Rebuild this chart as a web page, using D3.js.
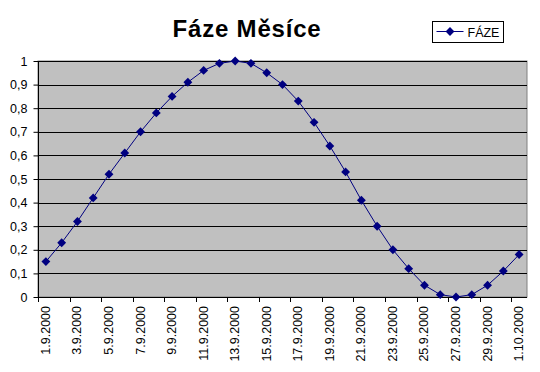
<!DOCTYPE html>
<html lang="cs">
<head>
    <meta charset="UTF-8">
    <script src="https://d3js.org/d3.v7.min.js"></script>
    <style>
        body { margin: 0; background: #fff; }
        text { font-family: "Liberation Sans", Arial, sans-serif; }
    </style>
</head>
<body>
    <svg id="chart" width="540" height="372"></svg>

    <script>
        // data
        const dates = ["1.9.2000", "2.9.2000", "3.9.2000", "4.9.2000", "5.9.2000", "6.9.2000",
            "7.9.2000", "8.9.2000", "9.9.2000", "10.9.2000", "11.9.2000", "12.9.2000",
            "13.9.2000", "14.9.2000", "15.9.2000", "16.9.2000", "17.9.2000", "18.9.2000",
            "19.9.2000", "20.9.2000", "21.9.2000", "22.9.2000", "23.9.2000", "24.9.2000",
            "25.9.2000", "26.9.2000", "27.9.2000", "28.9.2000", "29.9.2000", "30.9.2000",
            "1.10.2000"];
        const faze = [0.15, 0.23, 0.32, 0.42, 0.52, 0.61, 0.70, 0.78, 0.85, 0.91, 0.96, 0.99,
            1.00, 0.99, 0.95, 0.90, 0.83, 0.74, 0.64, 0.53, 0.41, 0.30, 0.20, 0.12,
            0.05, 0.01, 0.00, 0.01, 0.05, 0.11, 0.18];
        const yTicks = [0, 0.1, 0.2, 0.3, 0.4, 0.5, 0.6, 0.7, 0.8, 0.9, 1];

        const width = 540, height = 372;
        const margin = { top: 61, right: 13, bottom: 75, left: 38 };
        const svg = d3.select("#chart");

        const x = d3.scaleBand()
            .domain(dates)
            .range([margin.left, width - margin.right]);

        const y = d3.scaleLinear()
            .domain([0, 1])
            .range([height - margin.bottom, margin.top]);

        const fmt = d => String(d3.format(".1~f")(d)).replace(".", ",");

        // plot area
        svg.append("rect")
            .attr("x", margin.left)
            .attr("y", margin.top)
            .attr("width", width - margin.left - margin.right)
            .attr("height", height - margin.top - margin.bottom)
            .attr("fill", "#c0c0c0")
            .attr("stroke", "#808080");

        // gridlines
        svg.append("g")
            .selectAll("line")
            .data(yTicks.filter(d => d > 0))
            .enter().append("line")
            .attr("x1", margin.left)
            .attr("x2", width - margin.right)
            .attr("y1", d => Math.round(y(d)) + 0.5)
            .attr("y2", d => Math.round(y(d)) + 0.5)
            .attr("stroke", "#000");

        // y axis
        const yAxis = svg.append("g")
            .attr("transform", `translate(${margin.left + 0.5},0)`)
            .call(d3.axisLeft(y).tickValues(yTicks).tickSize(5).tickPadding(6).tickFormat(fmt));
        yAxis.select(".domain").attr("stroke", "#000").attr("d", `M0,${margin.top}V${height - margin.bottom}`);
        yAxis.selectAll(".tick line").attr("stroke", "#000");
        yAxis.selectAll("text").style("font-size", "12.5px").attr("fill", "#000");

        // x axis - ticks every 2 categories at boundaries
        const xAxisY = height - margin.bottom;
        const gx = svg.append("g");
        gx.append("line")
            .attr("x1", margin.left)
            .attr("x2", width - margin.right)
            .attr("y1", xAxisY + 0.5)
            .attr("y2", xAxisY + 0.5)
            .attr("stroke", "#000");
        gx.selectAll(".xt")
            .data(dates.filter((d, i) => i % 2 === 0))
            .enter().append("line")
            .attr("x1", d => Math.round(x(d)) + 0.5)
            .attr("x2", d => Math.round(x(d)) + 0.5)
            .attr("y1", xAxisY)
            .attr("y2", xAxisY + 5)
            .attr("stroke", "#000");
        gx.selectAll(".xl")
            .data(dates.filter((d, i) => i % 2 === 0))
            .enter().append("text")
            .attr("transform", d => `translate(${x(d) + x.bandwidth() / 2 + 4},${xAxisY + 9}) rotate(-90)`)
            .attr("text-anchor", "end")
            .style("font-size", "12.5px")
            .attr("fill", "#000")
            .text(d => d);

        // line
        const line = d3.line()
            .x((d, i) => x(dates[i]) + x.bandwidth() / 2)
            .y(d => y(d));

        svg.append("path")
            .datum(faze)
            .attr("d", line)
            .attr("fill", "none")
            .attr("stroke", "#000080")
            .attr("stroke-width", 1);

        const diamond = d3.symbol().type(d3.symbolDiamond2).size(50);
        svg.selectAll(".pt")
            .data(faze)
            .enter().append("path")
            .attr("transform", (d, i) => `translate(${x(dates[i]) + x.bandwidth() / 2},${y(d)})`)
            .attr("d", diamond)
            .attr("fill", "#000080");

        // title
        svg.append("text")
            .attr("x", 247)
            .attr("y", 37)
            .attr("text-anchor", "middle")
            .style("font-size", "24px")
            .style("font-weight", "bold")
            .style("letter-spacing", "0.8px")
            .text("Fáze Měsíce");

        // legend
        const lg = svg.append("g").attr("transform", "translate(432.5,21.5)");
        lg.append("rect")
            .attr("width", 71)
            .attr("height", 21)
            .attr("fill", "#fff")
            .attr("stroke", "#000");
        lg.append("line")
            .attr("x1", 4).attr("x2", 31)
            .attr("y1", 10).attr("y2", 10)
            .attr("stroke", "#000080");
        lg.append("path")
            .attr("transform", "translate(17.5,10)")
            .attr("d", diamond)
            .attr("fill", "#000080");
        lg.append("text")
            .attr("x", 35)
            .attr("y", 15)
            .style("font-size", "12.5px")
            .text("FÁZE");
    </script>
</body>
</html>
